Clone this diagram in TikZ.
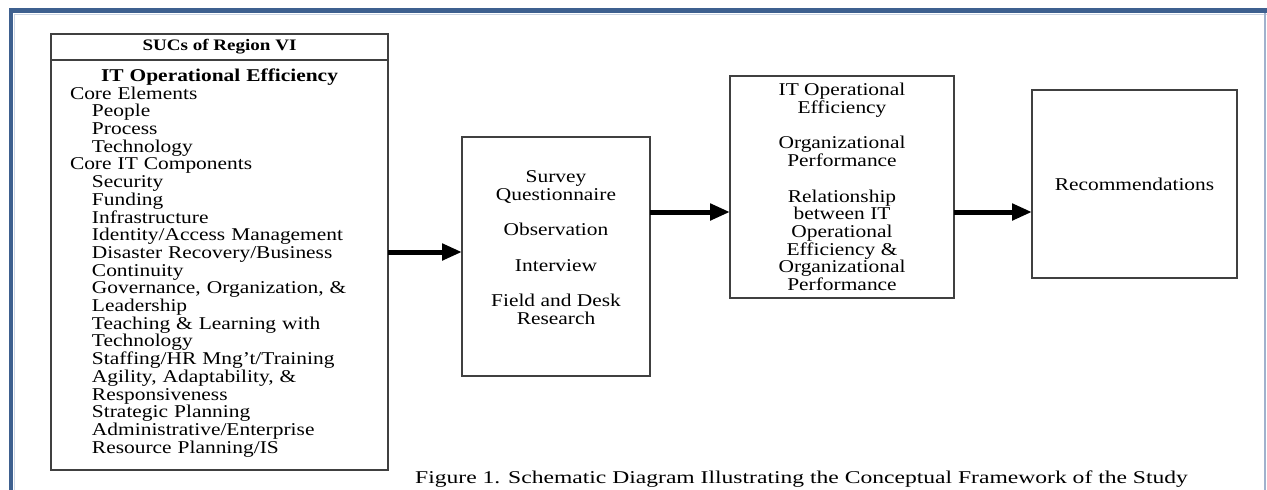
\documentclass[tikz,border=0pt]{standalone}
\usepackage{fontspec}
\setmainfont{Liberation Serif}
\newfontfamily\wide{Liberation Serif}[FakeStretch=1.19]
\newfontfamily\capfont{Liberation Serif}[FakeStretch=1.31]
\usetikzlibrary{arrows.meta,positioning}

\definecolor{frameblue}{RGB}{62,96,143}
\definecolor{frameshade}{RGB}{205,214,228}
\definecolor{frameside}{RGB}{160,178,205}

\newcommand{\boxfont}{\wide\fontsize{18}{17.7}\selectfont\lineskiplimit=-20pt\parindent=0pt}
\newcommand{\ind}{\hspace*{22pt}}

\tikzset{
	box/.style={draw=black!75, line width=1.3pt, outer sep=0pt, inner sep=0pt, font=\boxfont},
	flow/.style={line width=5pt, -{Triangle[length=20pt,width=16pt]}}
}

\begin{document}
\begin{tikzpicture}[x=1pt, y=-1pt]
		\useasboundingbox (0,0) rectangle (1267,490);
		\fill[white] (0,0) rectangle (1267,490);
		\draw[frameshade, line width=1.5] (14.5,490) -- (14.5,14.5) -- (1267,14.5);
		\draw[frameblue, line width=4.5] (11,490) -- (11,10.5) -- (1267,10.5);
		\draw[frameside, line width=1.5] (1265,13) -- (1265,490);

		\node [box, minimum width=337, minimum height=26, font=\wide\bfseries\fontsize{16}{16}\selectfont] (suc) at (219.5,47) {SUCs of Region VI};
		\node [box, minimum width=337, minimum height=410, text width=299, inner xsep=19, align=left, below=0pt of suc] (core) {%
			\makebox[299pt]{\bfseries IT Operational Efficiency}\\
			Core Elements\\
			\ind People\\
			\ind Process\\
			\ind Technology\\
			Core IT Components\\
			\ind Security\\
			\ind Funding\\
			\ind Infrastructure\\
			\ind Identity/Access Management\\
			\ind Disaster Recovery/Business\\
			\ind Continuity\\
			\ind Governance, Organization, \&\\
			\ind Leadership\\
			\ind Teaching \& Learning with\\
			\ind Technology\\
			\ind Staffing/HR Mng’t/Training\\
			\ind Agility, Adaptability, \&\\
			\ind Responsiveness\\
			\ind Strategic Planning\\
			\ind Administrative/Enterprise\\
			\ind Resource Planning/IS\\[-9.7pt]\mbox{}};

		\node [box, minimum width=188, minimum height=239, align=center] (tools) at (556,256.5) {%
			Survey\\ Questionnaire\\[17.7pt]
			Observation\\[17.7pt]
			Interview\\[17.7pt]
			Field and Desk\\ Research\\ \mbox{}};
		\node [box, minimum width=224, minimum height=222, align=center] (result) at (842,187) {%
			IT Operational\\ Efficiency\\[17.7pt]
			Organizational\\ Performance\\[17.7pt]
			Relationship\\ between IT\\ Operational\\ Efficiency \&\\ Organizational\\ Performance};
		\node [box, minimum width=205, minimum height=188] (recom) at (1134.5,184) {Recommendations};

		\draw [flow] (core.east |- 0,252) -- (tools.west |- 0,252);
		\draw [flow] (tools.east |- 0,212) -- (result.west |- 0,212);
		\draw [flow] (result.east |- 0,212) -- (recom.west |- 0,212);

		\node [anchor=base west, inner sep=0pt, font=\capfont\fontsize{18}{18}\selectfont] (caption) at (415,483) {Figure 1. Schematic Diagram Illustrating the Conceptual Framework of the Study};
\end{tikzpicture}
\end{document}
